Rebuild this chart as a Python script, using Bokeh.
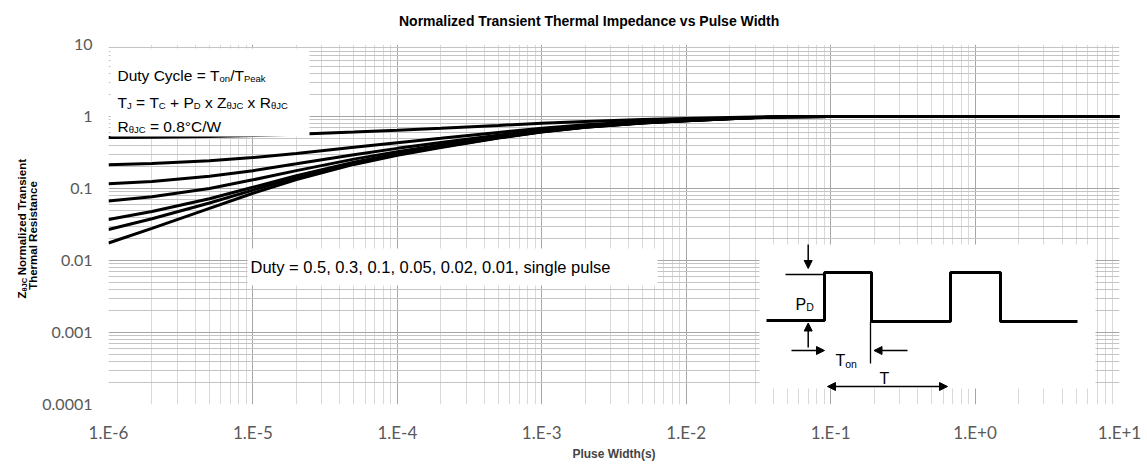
import json
import math
from bokeh.plotting import figure
from bokeh.layouts import column, row
from bokeh.models import Range1d, FixedTicker, CustomJSTickFormatter, Label, Arrow, NormalHead
from bokeh.embed import file_html
from bokeh.resources import INLINE

# ---------------- data ----------------
pulse_width = [1e-6, 2e-6, 5e-6, 1e-5, 2e-5, 5e-5, 1e-4, 2e-4, 5e-4, 1e-3, 2e-3, 5e-3,
               1e-2, 2e-2, 3e-2, 5e-2, 1e-1, 1.0, 10.0]
z_duty_0_5 = [0.509, 0.514, 0.527, 0.543, 0.567, 0.608, 0.645, 0.686, 0.751, 0.805, 0.854, 0.906,
              0.936, 0.967, 0.982, 0.994, 1.0, 1.0, 1.0]
z_duty_0_3 = [0.214, 0.223, 0.243, 0.269, 0.307, 0.373, 0.432, 0.497, 0.601, 0.688, 0.766, 0.850,
              0.897, 0.946, 0.971, 0.991, 1.0, 1.0, 1.0]
z_duty_0_1 = [0.116, 0.125, 0.148, 0.177, 0.220, 0.295, 0.361, 0.434, 0.551, 0.649, 0.737, 0.832,
              0.884, 0.940, 0.967, 0.990, 1.0, 1.0, 1.0]
z_duty_0_05 = [0.067, 0.077, 0.100, 0.132, 0.177, 0.256, 0.325, 0.403, 0.526, 0.629, 0.723, 0.822,
               0.878, 0.936, 0.966, 0.989, 1.0, 1.0, 1.0]
z_duty_0_02 = [0.037, 0.048, 0.072, 0.104, 0.151, 0.232, 0.304, 0.384, 0.511, 0.617, 0.714, 0.817,
               0.874, 0.934, 0.965, 0.989, 1.0, 1.0, 1.0]
z_duty_0_01 = [0.027, 0.038, 0.063, 0.095, 0.142, 0.224, 0.297, 0.378, 0.506, 0.613, 0.711, 0.815,
               0.872, 0.934, 0.964, 0.989, 1.0, 1.0, 1.0]
z_single = [0.0175, 0.028, 0.053, 0.086, 0.133, 0.216, 0.290, 0.372, 0.501, 0.610, 0.708, 0.813,
            0.871, 0.933, 0.964, 0.989, 1.0, 1.0, 1.0]
series = [z_duty_0_5, z_duty_0_3, z_duty_0_1, z_duty_0_05, z_duty_0_02, z_duty_0_01, z_single]

x_tick_values = [1e-6, 1e-5, 1e-4, 1e-3, 1e-2, 1e-1, 1.0, 10.0]
x_tick_labels = ["1.E-6", "1.E-5", "1.E-4", "1.E-3", "1.E-2", "1.E-1", "1.E+0", "1.E+1"]
y_tick_values = [1e-4, 1e-3, 1e-2, 1e-1, 1.0, 10.0]
y_tick_labels = ["0.0001", "0.001", "0.01", "0.1", "1", "10"]

title_text = "Normalized Transient Thermal Impedance vs Pulse Width"
x_label_text = "Pluse Width(s)"
duty_text = "Duty = 0.5, 0.3, 0.1, 0.05, 0.02, 0.01, single pulse"

# ---------------- layout (page pixels) ----------------
FX0, FX1, FY0, FY1 = 106, 1117, 44, 404
LAB_W = 39
TOTAL_W = 1139
TITLE_H = 32
MAIN_BOTTOM = 60
TOTAL_H = FY1 + MAIN_BOTTOM
XMIN, XMAX, YMIN, YMAX = 1e-6, 10.0, 1e-4, 10.0
FONT = "Liberation Sans"
NB = "\u00a0"


def dx(px):
    lo, hi = math.log10(XMIN), math.log10(XMAX)
    return 10 ** (lo + (px - FX0) / (FX1 - FX0) * (hi - lo))


def dy(py):
    lo, hi = math.log10(YMIN), math.log10(YMAX)
    return 10 ** (hi - (py - FY0) / (FY1 - FY0) * (hi - lo))


WID = {' ': 278, NB: 278, 'D': 722, 'u': 556, 't': 278, 'y': 500, 'C': 722, 'c': 500, 'l': 222,
       'e': 556, '=': 584, 'T': 611, 'o': 556, 'n': 556, '/': 278, 'P': 667, 'a': 556, 'k': 500,
       'J': 500, '+': 584, 'x': 500, 'Z': 611, 'θ': 556, 'R': 722, '0': 556, '.': 278, '8': 556,
       '°': 400, 'W': 944}


def tw(text, size):
    return sum(WID.get(c, 556) for c in text) * size / 1000.0


def blank_fig(w, h):
    f = figure(width=w, height=h, x_range=Range1d(0, w), y_range=Range1d(h, 0),
               x_axis_location=None, y_axis_location=None, output_backend="svg",
               toolbar_location=None, min_border=0)
    f.grid.visible = False
    f.outline_line_color = None
    f.background_fill_color = "white"
    f.border_fill_color = "white"
    return f


# ---------------- main figure ----------------
p = figure(frame_width=FX1 - FX0, frame_height=FY1 - FY0,
           x_axis_type="log", y_axis_type="log",
           x_range=Range1d(XMIN, XMAX), y_range=Range1d(YMIN, YMAX),
           output_backend="svg", toolbar_location=None,
           min_border_left=FX0 - LAB_W, min_border_right=TOTAL_W - FX1,
           min_border_top=FY0 - TITLE_H, min_border_bottom=MAIN_BOTTOM)
p.outline_line_color = None
p.background_fill_color = "white"
p.border_fill_color = "white"

x_minor = [m * 10 ** e for e in range(-6, 1) for m in range(2, 10)]
y_minor = [m * 10 ** e for e in range(-4, 1) for m in range(2, 10)]
p.xaxis.ticker = FixedTicker(ticks=x_tick_values, minor_ticks=x_minor)
p.yaxis.ticker = FixedTicker(ticks=y_tick_values, minor_ticks=y_minor)

fmt_code = """
const vals = %s; const labels = %s;
let best = 0, bd = 1e9;
for (let i = 0; i < vals.length; i++) {
  const d = Math.abs(Math.log10(vals[i]) - Math.log10(tick));
  if (d < bd) { bd = d; best = i; }
}
return labels[best];
"""
p.xaxis.formatter = CustomJSTickFormatter(code=fmt_code % (json.dumps(x_tick_values), json.dumps(x_tick_labels)))
p.yaxis.formatter = CustomJSTickFormatter(code=fmt_code % (json.dumps(y_tick_values), json.dumps(y_tick_labels)))

for ax in (p.xaxis, p.yaxis):
    ax.axis_line_color = None
    ax.major_tick_line_color = None
    ax.minor_tick_line_color = None
    ax.major_tick_out = 0
    ax.major_tick_in = 0
    ax.minor_tick_out = 0
    ax.minor_tick_in = 0
    ax.major_label_text_font = "Lato"
    ax.major_label_text_font_size = "17px"
    ax.major_label_text_color = "#595959"

p.yaxis.major_label_text_font_size = "16px"
p.yaxis.major_label_standoff = 16
p.xaxis.major_label_standoff = 17
p.xaxis.axis_label = x_label_text
p.xaxis.axis_label_text_font = FONT
p.xaxis.axis_label_text_font_style = "bold"
p.xaxis.axis_label_text_font_size = "12px"
p.xaxis.axis_label_standoff = 1

p.xgrid.grid_line_color = "#a6a6a6"
p.ygrid.grid_line_color = "#a6a6a6"
p.xgrid.minor_grid_line_color = "#d9d9d9"
p.ygrid.minor_grid_line_color = "#c4c4c4"

for vals in series:
    p.line(pulse_width, vals, line_width=3, color="black")

# white text boxes
p.quad(left=dx(108), right=dx(307), top=dy(48), bottom=dy(136), fill_color="white", line_color=None)
p.quad(left=dx(245), right=dx(655), top=dy(248), bottom=dy(285), fill_color="white", line_color=None)
p.quad(left=dx(757), right=dx(1093), top=dy(244), bottom=dy(388), fill_color="white", line_color=None)


def add_text(fig, text, x, y, size, bold=False, align="left", baseline="alphabetic", angle=0.0):
    fig.add_layout(Label(text=text, x=x, y=y, text_font=FONT, text_font_size=f"{size}px",
                         text_font_style="bold" if bold else "normal", text_align=align,
                         text_baseline=baseline, angle=angle, text_color="black"))


def add_rich(segments, px, py, size, sub_size, drop):
    x = px
    for text, sub in segments:
        s = sub_size if sub else size
        add_text(p, text.replace(" ", NB), dx(x), dy(py + (drop if sub else 0)), s)
        x += tw(text, s)


# top-left box
add_rich([("Duty Cycle = T", False), ("on", True), ("/T", False), ("Peak", True)], 115, 74.5, 15.5, 9.5, 3)
add_rich([("T", False), ("J", True), (" = T", False), ("C", True), (" + P", False), ("D", True),
          (" x Z", False), ("θJC", True), (" x R", False), ("θJC", True)], 115, 101.5, 15.5, 9.5, 3)
add_rich([("R", False), ("θJC", True), (" = 0.8°C/W", False)], 115, 125.5, 15.5, 9.5, 3)

# duty list box
add_text(p, duty_text, dx(248), dy(266), 16.5, baseline="middle")

# pulse inset
wave_px = [764, 822, 822, 869, 869, 948, 948, 998, 998, 1075]
wave_py = [320, 320, 272, 272, 321, 321, 272, 272, 321, 321]
p.line([dx(v) for v in wave_px], [dy(v) for v in wave_py], line_width=3, color="black")
p.line([dx(783), dx(822)], [dy(274), dy(274)], line_width=1.3, color="black")
p.line([dx(868), dx(868)], [dy(321), dy(363)], line_width=1.3, color="black")


def arrow(x0, y0, x1, y1, both=False):
    head = dict(size=8, fill_color="black", line_color="black", line_width=1)
    p.add_layout(Arrow(x_start=dx(x0), y_start=dy(y0), x_end=dx(x1), y_end=dy(y1),
                       end=NormalHead(**head), start=NormalHead(**head) if both else None,
                       line_width=1.5, line_color="black"))


arrow(805.7, 244, 805.7, 268)
arrow(805.7, 347, 805.7, 322.5)
arrow(789, 350, 822, 350)
arrow(905, 350, 871.5, 350)
arrow(825, 386, 945, 386, both=True)

add_rich([("P", False), ("D", True)], 793, 303.5, 16, 10.5, 3)
add_rich([("T", False), ("on", True)], 833, 360, 16, 10.5, 3.5)
add_text(p, "T", dx(877), dy(378), 16)

# ---------------- title strip (data = page px minus LAB_W) ----------------
t = blank_fig(TOTAL_W - LAB_W, TITLE_H)
add_text(t, title_text, 563 - LAB_W, 20, 14, bold=True, align="center", baseline="middle")

# ---------------- y label strip (data = page px) ----------------
yl = blank_fig(LAB_W, TOTAL_H)
ang = math.pi / 2
add_text(yl, "Z", 21.5, 298, 11.5, bold=True, angle=ang)
add_text(yl, "θJC", 24, 291, 7.5, bold=True, angle=ang)
add_text(yl, NB + "Normalized Transient", 21.5, 278, 11.5, bold=True, angle=ang)
add_text(yl, "Thermal Resistance", 32, 235, 11.5, bold=True, align="center", angle=ang)

layout = row(yl, column(t, p, spacing=0), spacing=0)
open("out.html", "w").write(file_html(layout, INLINE))
